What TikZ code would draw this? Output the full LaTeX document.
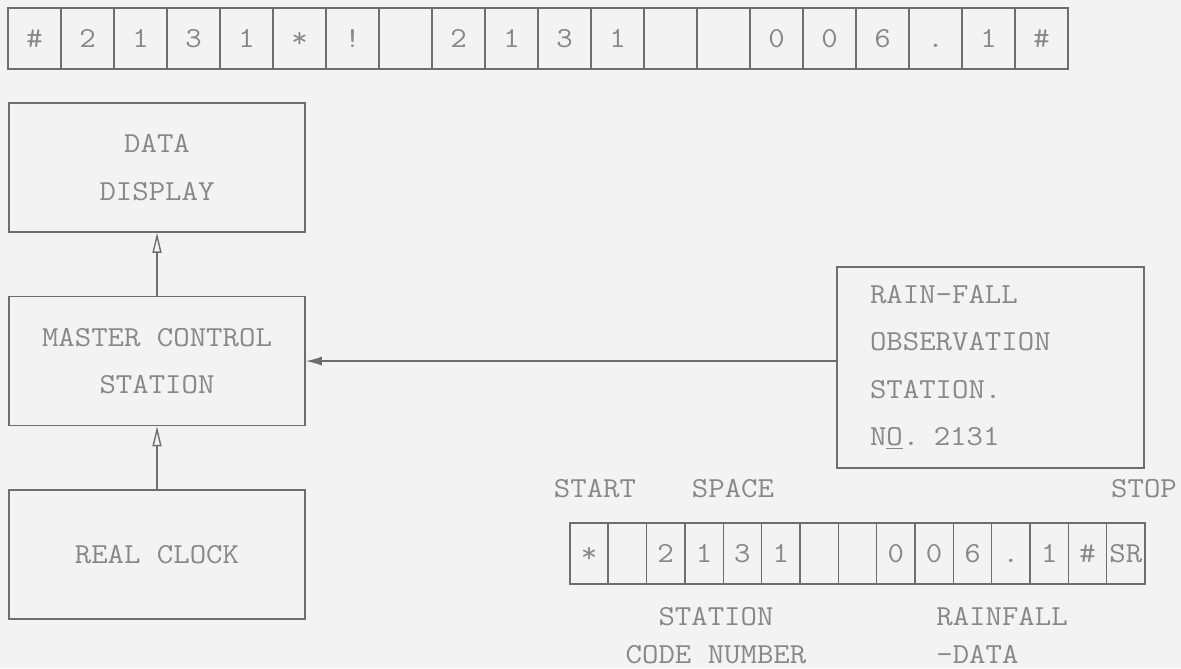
\documentclass[tikz,border=0pt]{standalone}
\usepackage{fontspec}
\setmonofont[FakeStretch=1.1]{Latin Modern Mono}
\usepackage{tikz}
\usetikzlibrary{arrows.meta,positioning}
\definecolor{TeleInk}{HTML}{888888}
\definecolor{TeleLine}{HTML}{6E6E6E}
\definecolor{PaperGray}{HTML}{F3F3F3}
\newcommand{\tapefont}{\ttfamily\fontsize{16.5}{27}\selectfont}
\newcommand{\notefont}{\ttfamily\fontsize{16.5}{22}\selectfont}

\begin{document}
\begin{tikzpicture}[node distance=1.26cm,>={Triangle[open,length=4mm,width=1.8mm]}]
\tikzstyle{cell}=[rectangle,draw=TeleLine,line width=0.8pt,minimum width=1.06cm,
                  minimum height=1.22cm,inner sep=0pt,outer sep=0pt,text=TeleInk,font=\tapefont,
                  text height=10pt,text depth=0pt]
\tikzstyle{slot}=[cell,minimum width=0.767cm]
\tikzstyle{unit}=[rectangle,draw=TeleLine,line width=0.9pt,minimum width=5.92cm,
                  minimum height=2.58cm,align=center,text=TeleInk,font=\tapefont]
\tikzstyle{post}=[unit,minimum height=4.02cm,inner xsep=0.66cm,text width=4.82cm,align=left]
\tikzstyle{note}=[text=TeleInk,font=\notefont,inner sep=0pt]
\tikzstyle{feed}=[->,line width=0.8pt,draw=TeleLine]
\path[use as bounding box,fill=PaperGray] (0,0) rectangle (23.62,-13.36);
% message as printed at the master station
\node[cell] (t1) at (0.69,-0.77) {\#};
\node[cell,right=0pt of t1] (t2) {2};
\node[cell,right=0pt of t2] (t3) {1};
\node[cell,right=0pt of t3] (t4) {3};
\node[cell,right=0pt of t4] (t5) {1};
\node[cell,right=0pt of t5] (t6) {*};
\node[cell,right=0pt of t6] (t7) {!};
\node[cell,right=0pt of t7] (t8) {};
\node[cell,right=0pt of t8] (t9) {2};
\node[cell,right=0pt of t9] (t10) {1};
\node[cell,right=0pt of t10] (t11) {3};
\node[cell,right=0pt of t11] (t12) {1};
\node[cell,right=0pt of t12] (t13) {};
\node[cell,right=0pt of t13] (t14) {};
\node[cell,right=0pt of t14] (t15) {0};
\node[cell,right=0pt of t15] (t16) {0};
\node[cell,right=0pt of t16] (t17) {6};
\node[cell,right=0pt of t17] (t18) {.};
\node[cell,right=0pt of t18] (t19) {1};
\node[cell,right=0pt of t19] (t20) {\#};
% blocks
\node[unit] (disp) at (3.14,-3.35) {DATA\\DISPLAY};
\node[unit,below=of disp] (master) {MASTER CONTROL\\STATION};
\node[unit,below=of master] (clock) {REAL CLOCK};
\node[post] (rain) at (19.81,-7.35)
  {RAIN-FALL\\OBSERVATION\\STATION.\\N\underline{O}. 2131};
\draw[feed] (clock) -- (master);
\draw[feed] (master) -- (disp);
\draw[feed,>={Latex[length=3.2mm,width=1.8mm]}] (rain.west |- master) -- (master);
% message sent by the observation station
\node[slot] (b1) at (11.78,-11.07) {*};
\node[slot,right=0pt of b1] (b2) {};
\node[slot,right=0pt of b2] (b3) {2};
\node[slot,right=0pt of b3] (b4) {1};
\node[slot,right=0pt of b4] (b5) {3};
\node[slot,right=0pt of b5] (b6) {1};
\node[slot,right=0pt of b6] (b7) {};
\node[slot,right=0pt of b7] (b8) {};
\node[slot,right=0pt of b8] (b9) {0};
\node[slot,right=0pt of b9] (b10) {0};
\node[slot,right=0pt of b10] (b11) {6};
\node[slot,right=0pt of b11] (b12) {.};
\node[slot,right=0pt of b12] (b13) {1};
\node[slot,right=0pt of b13] (b14) {\#};
\node[slot,right=0pt of b14] (b15) {SR};
\node[note] (start) at (11.9,-9.78) {START};
\node[note] (space) at (14.66,-9.78) {SPACE};
\node[note] (stop) at (22.88,-9.78) {STOP};
\node[note,align=center] (code) at (14.32,-12.71) {STATION\\CODE NUMBER};
\node[note,align=left,anchor=west] (fall) at (18.72,-12.71) {RAINFALL\\-DATA};
\end{tikzpicture}
\end{document}
